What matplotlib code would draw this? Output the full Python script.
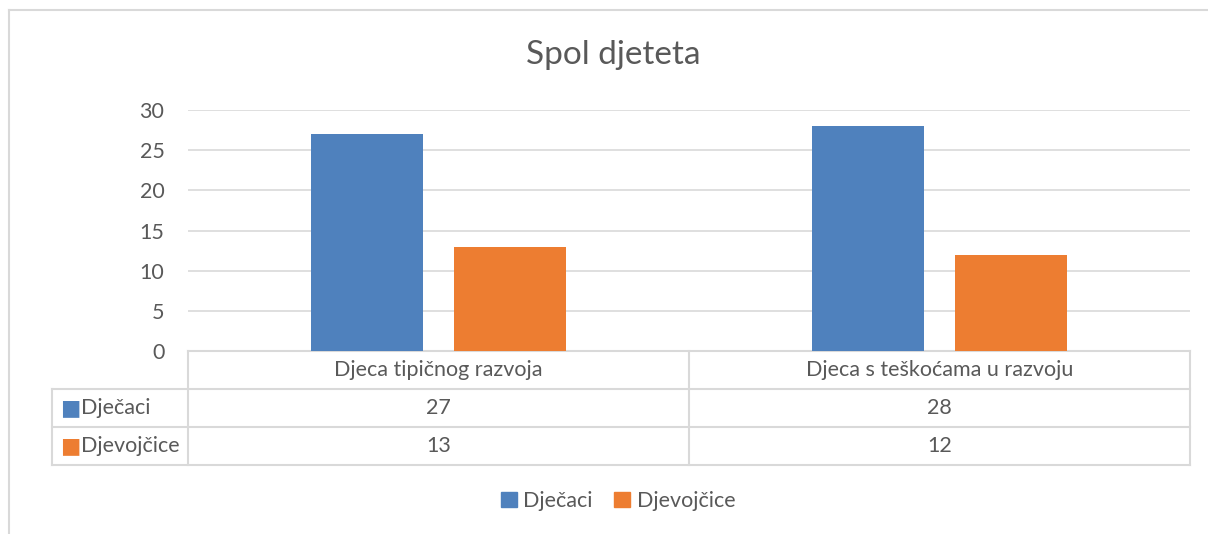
import matplotlib.pyplot as plt
import numpy as np

categories = ["Djeca tipičnog razvoja", "Djeca s teškoćama u razvoju"]
series_names = ["Dječaci", "Djevojčice"]
djecaci = [27, 28]
djevojcice = [13, 12]
colors = ["#4f81bd", "#ed7d31"]
yticks = [0, 5, 10, 15, 20, 25, 30]

txt = "#595959"
grid = "#d9d9d9"
plt.rcParams['font.family'] = ['Lato', 'DejaVu Sans']
fs = 15.5

W, H = 1208, 534
fig = plt.figure(figsize=(W / 100, H / 100), dpi=100)
ax = fig.add_axes([188 / W, 1 - 351 / H, (1190 - 188) / W, (351 - 110) / H])

x = np.arange(len(categories))
bw = 112 / 501
off = 71.5 / 501
ax.bar(x - off, djecaci, bw, color=colors[0], zorder=3)
ax.bar(x + off, djevojcice, bw, color=colors[1], zorder=3)

ax.set_xlim(-0.5, len(categories) - 0.5)
ax.set_ylim(0, 30)
ax.set_yticks(yticks)
ax.tick_params(axis='y', length=0, labelsize=fs, labelcolor=txt, pad=17)
ax.set_xticks([])
ax.yaxis.grid(True, color=grid, lw=1.2, zorder=0)
for s in ax.spines.values():
    s.set_visible(False)

# data table below the axes
tr = ax.transAxes
rows_y = [0, -38 / 241, -76 / 241, -114 / 241]
left = (52 - 188) / 1002
lw = 1.5
for i, yy in enumerate(rows_y):
    x0 = 0 if i == 0 else left
    ax.plot([x0, 1], [yy, yy], color=grid, lw=lw, transform=tr, clip_on=False)
ax.plot([left, left], [rows_y[1], rows_y[3]], color=grid, lw=lw, transform=tr, clip_on=False)
for xx in [0, 0.5, 1]:
    ax.plot([xx, xx], [0, rows_y[3]], color=grid, lw=lw, transform=tr, clip_on=False)

values = [djecaci, djevojcice]
for j, cat in enumerate(categories):
    xc = (j + 0.5) / len(categories)
    ax.text(xc, (rows_y[0] + rows_y[1]) / 2, cat, transform=tr, ha='center', va='center',
            fontsize=fs, color=txt)
    for i in range(2):
        ax.text(xc, (rows_y[i + 1] + rows_y[i + 2]) / 2, str(values[i][j]), transform=tr,
                ha='center', va='center', fontsize=fs, color=txt)
for i, name in enumerate(series_names):
    yc = (rows_y[i + 1] + rows_y[i + 2]) / 2
    ax.text(left + 8 / 1002, yc, "\u25A0", transform=tr, ha='left', va='center',
            fontsize=fs, color=colors[i])
    ax.text(left + 29 / 1002, yc, name, transform=tr, ha='left', va='center',
            fontsize=fs, color=txt)

# chart border (left and top only visible)
fig.add_artist(plt.Line2D([8.5 / W, 8.5 / W], [0, 1 - 10 / H], color=grid, lw=1.5))
fig.add_artist(plt.Line2D([8.5 / W, 1], [1 - 10 / H, 1 - 10 / H], color=grid, lw=1.5))

fig.text(613 / W, 1 - 55 / H, "Spol djeteta", ha='center', va='center', fontsize=24, color=txt)

# legend
handles = [plt.Rectangle((0, 0), 1, 1, color=c) for c in colors]
fig.legend(handles, series_names, loc='center', bbox_to_anchor=(618 / W, 1 - 501 / H),
           ncol=2, frameon=False, fontsize=fs, labelcolor=txt, handlelength=0.75,
           handleheight=0.75, handletextpad=0.3, columnspacing=1.0)

fig.savefig("out.png", dpi=100, facecolor="white")
